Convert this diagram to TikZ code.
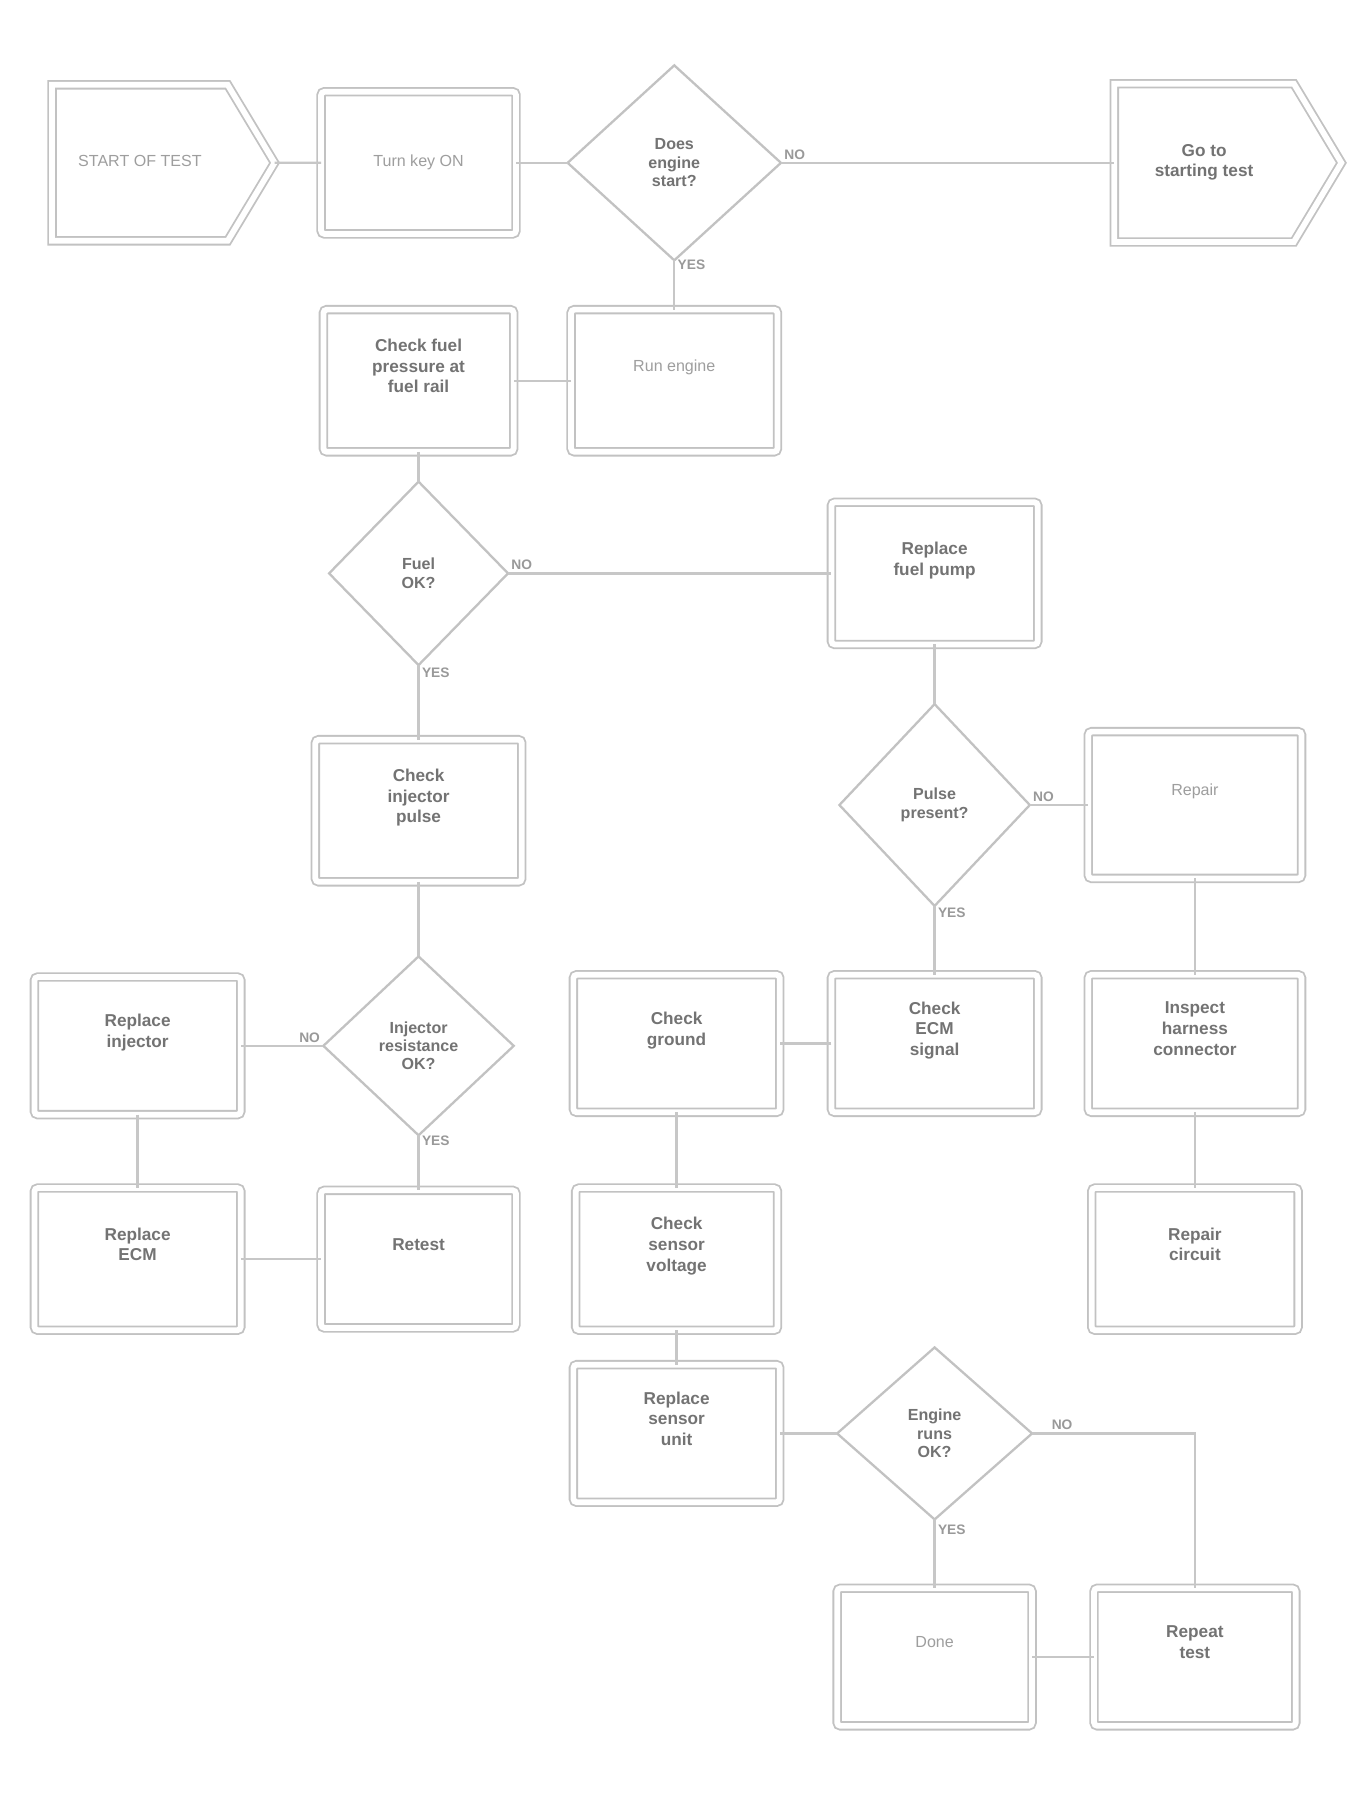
\documentclass[tikz,border=0pt]{standalone}
\usepackage{fontspec}
\setmainfont{Liberation Sans}
\usetikzlibrary{shapes.geometric}
\usetikzlibrary{shapes.symbols}
\tikzset{
        every node/.style={align=center,outer sep=0pt},
        box/.style={rectangle,rounded corners=3pt,draw=black!24,line width=1.6pt,
                double=white,double distance=5pt,minimum width=180pt,minimum height=122pt,
                text depth=26pt,font=\fontsize{15}{18}\selectfont\bfseries,text=black!55},
        lightbox/.style={box,font=\fontsize{14}{17}\selectfont,text=black!38},
        flag/.style={lightbox,signal,signal to=east,signal pointer angle=118,rounded corners=0pt,text depth=4pt},
        test/.style={diamond,draw=black!24,line width=2pt,inner sep=0pt,
                font=\fontsize{14}{16}\selectfont\bfseries,text=black!55},
        link/.style={draw=black!22,line width=2pt},
        answer/.style={font=\fontsize{12}{14}\selectfont\bfseries,text=black!40,inner sep=3pt},
        }

\begin{document}
\begin{tikzpicture}[x=1pt,y=-1pt]

			\useasboundingbox[fill=white] (0,0) rectangle (1190,1581);

			% first row.....................
			\node [flag,minimum width=194pt,minimum height=136pt] (start) at (122,142) {START OF TEST};
			\node [lightbox,minimum width=170pt,minimum height=124pt,text depth=4pt] (keyon) at (365,142) {Turn key ON};
			\node [test,minimum width=186pt,minimum height=170pt] (cranks) at (588,142) {Does\\engine\\start?};
			\node [flag,minimum width=198pt,minimum height=138pt,font=\fontsize{15}{18}\selectfont\bfseries,text=black!55] (gotest) at (1050,142) {Go to\\starting test};

			% second row......................
			\node [box,minimum width=166pt,minimum height=124pt] (fuel) at (365,332) {Check fuel\\pressure at\\fuel rail};
			\node [lightbox,minimum width=180pt,minimum height=124pt] (run) at (588,332) {Run engine};

			% third row.......................
			\node [test,minimum width=156pt,minimum height=160pt] (fuelok) at (365,500) {Fuel\\OK?};
			\node [box,minimum width=180pt,minimum height=124pt] (pump) at (815,500) {Replace\\fuel pump};

			% fourth row......................
			\node [box,minimum width=180pt,minimum height=124pt] (pulse) at (365,707) {Check\\injector\\pulse};
			\node [test,minimum width=166pt,minimum height=176pt] (present) at (815,702) {Pulse\\present?};
			\node [lightbox,minimum width=186pt,minimum height=128pt] (repair) at (1042,702) {Repair};

			% fifth row.......................
			\node [box,minimum width=180pt,minimum height=120pt] (injector) at (120,912) {Replace\\injector};
			\node [test,minimum width=166pt,minimum height=156pt] (ohms) at (365,912) {Injector\\resistance\\OK?};
			\node [box,minimum width=180pt,minimum height=120pt] (ground) at (590,910) {Check\\ground};
			\node [box,minimum width=180pt,minimum height=120pt] (signal) at (815,910) {Check\\ECM\\signal};
			\node [box,minimum width=186pt,minimum height=120pt] (harness) at (1042,910) {Inspect\\harness\\connector};

			% sixth row.......................
			\node [box,minimum width=180pt,minimum height=124pt] (ecm) at (120,1098) {Replace\\ECM};
			\node [box,minimum width=170pt,minimum height=120pt] (retest) at (365,1098) {Retest};
			\node [box,minimum width=176pt,minimum height=124pt] (sensor) at (590,1098) {Check\\sensor\\voltage};
			\node [box,minimum width=180pt,minimum height=124pt] (circuit) at (1042,1098) {Repair\\circuit};

			% seventh row.....................
			\node [box,minimum width=180pt,minimum height=120pt] (unit) at (590,1250) {Replace\\sensor\\unit};
			\node [test,minimum width=170pt,minimum height=150pt] (runs) at (815,1250) {Engine\\runs\\OK?};

			% last row........................
			\node [lightbox,minimum width=170pt,minimum height=120pt] (done) at (815,1445) {Done};
			\node [box,minimum width=176pt,minimum height=120pt] (repeat) at (1042,1445) {Repeat\\test};

			% connectors......................
			\draw [link] (start) -- (keyon);
			\draw [link] (keyon) -- (cranks);
			\draw [link] (cranks) -- node [answer,pos=0,above right] {NO} (gotest);
			\draw [link] (cranks) -- node [answer,pos=0.1,right] {YES} (run);
			\draw [link] (run) -- (fuel);
			\draw [link] (fuel) -- (fuelok);
			\draw [link] (fuelok) -- node [answer,pos=0,above right] {NO} (pump);
			\draw [link] (fuelok) -- node [answer,pos=0.1,right] {YES} (pulse);
			\draw [link] (pump) -- (present);
			\draw [link] (present) -- node [answer,pos=0,above right] {NO} (repair);
			\draw [link] (present) -- node [answer,pos=0.1,right] {YES} (signal);
			\draw [link] (repair) -- (harness);
			\draw [link] (harness) -- (circuit);
			\draw [link] (pulse) -- (ohms);
			\draw [link] (ohms) -- node [answer,pos=0,above left] {NO} (injector);
			\draw [link] (ohms) -- node [answer,pos=0.1,right] {YES} (retest);
			\draw [link] (injector) -- (ecm);
			\draw [link] (ecm) -- (retest);
			\draw [link] (signal) -- (ground);
			\draw [link] (ground) -- (sensor);
			\draw [link] (sensor) -- (unit);
			\draw [link] (unit) -- (runs);
			\draw [link] (runs) -| node [answer,pos=0.05,above right] {NO} (repeat);
			\draw [link] (runs) -- node [answer,pos=0.15,right] {YES} (done);
			\draw [link] (done) -- (repeat);
		\end{tikzpicture}
\end{document}
